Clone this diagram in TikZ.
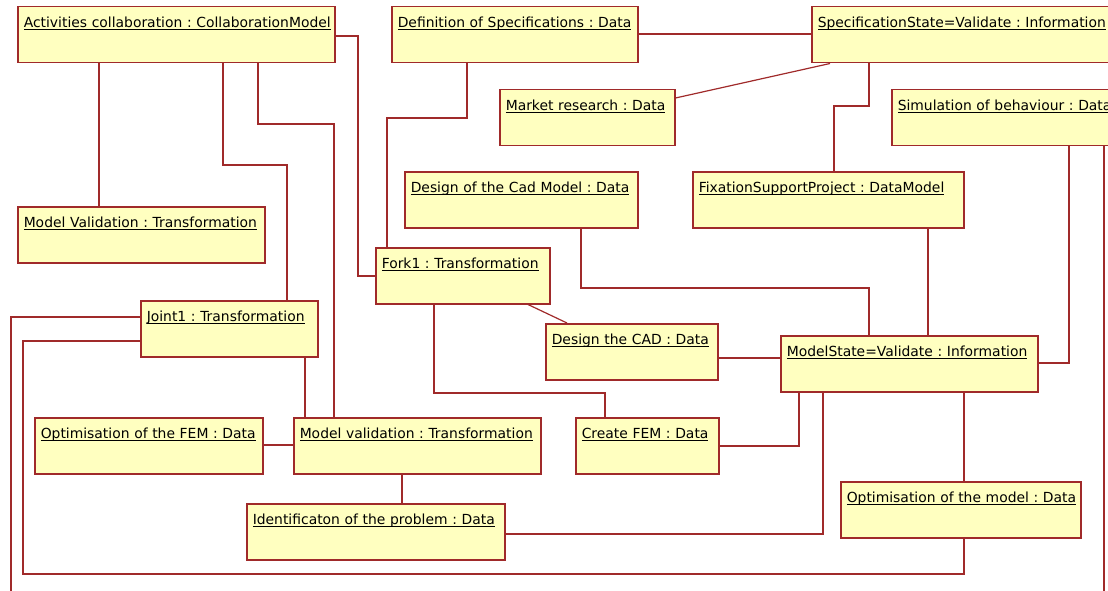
\documentclass[tikz,border=0pt]{standalone}
\usepackage{fontspec}
\setmainfont{DejaVu Sans}
\frenchspacing
\definecolor{linec}{RGB}{160,42,42}
\definecolor{boxfill}{RGB}{255,255,192}
\newcommand\ulbl[1]{\setbox0\hbox{#1}\rlap{\rule[-2.6pt]{\wd0}{0.9pt}}\box0}
\begin{document}
\begin{tikzpicture}[x=1pt,y=-1pt,
  obj/.style={draw=linec, fill=boxfill, line width=1.5pt, anchor=north west,
    inner xsep=6pt, inner ysep=0pt, text height=21pt, text depth=35pt,
    align=left, font=\fontsize{13.9}{15}\selectfont},
  conn/.style={draw=linec, line width=1.2pt}]
\useasboundingbox (0,0) rectangle (1108,591);
\clip (0,0) rectangle (1108,591);

% boxes
\node[obj, text width=305pt] (collab) at (17,6) {\ulbl{Activities collaboration : CollaborationModel}};
\node[obj, text width=234pt] (defspec) at (391,6) {\ulbl{Definition of Specifications : Data}};
\node[obj, text width=330pt] (specstate) at (811,6) {\ulbl{SpecificationState=Validate : Information}};
\node[obj, text width=163pt] (market) at (499,89) {\ulbl{Market research : Data}};
\node[obj, text width=250pt] (simul) at (891,89) {\ulbl{Simulation of behaviour : Data}};
\node[obj, text width=221pt] (designcad) at (404,171) {\ulbl{Design of the Cad Model : Data}};
\node[obj, text width=259pt] (fixation) at (692,171) {\ulbl{FixationSupportProject : DataModel}};
\node[obj, text width=235pt] (modelvalT) at (17,206) {\ulbl{Model Validation : Transformation}};
\node[obj, text width=162pt] (fork) at (375,247) {\ulbl{Fork1 : Transformation}};
\node[obj, text width=165pt] (joint) at (140,300) {\ulbl{Joint1 : Transformation}};
\node[obj, text width=160pt] (designthecad) at (545,323) {\ulbl{Design the CAD : Data}};
\node[obj, text width=245pt] (modelstate) at (780,335) {\ulbl{ModelState=Validate : Information}};
\node[obj, text width=216pt] (optfem) at (34,417) {\ulbl{Optimisation of the FEM : Data}};
\node[obj, text width=235pt] (modelval) at (293,417) {\ulbl{Model validation : Transformation}};
\node[obj, text width=131pt] (createfem) at (575,417) {\ulbl{Create FEM : Data}};
\node[obj, text width=246pt] (ident) at (246,503) {\ulbl{Identificaton of the problem : Data}};
\node[obj, text width=228pt] (optmodel) at (840,481) {\ulbl{Optimisation of the model : Data}};

\coordinate (offL) at (11,600);
\coordinate (offR) at (1104,600);

% connectors
\draw[conn] ([shift={(82,0)}]collab.south west) -- ([shift={(82,0)}]modelvalT.north west);
\draw[conn] ([shift={(206,0)}]collab.south west) -- (223,165) -- (287,165) -- ([shift={(147,0)}]joint.north west);
\draw[conn] ([shift={(241,0)}]collab.south west) -- (258,124) -- (334,124) -- ([shift={(41,0)}]modelval.north west);
\draw[conn] ([shift={(0,30)}]collab.north east) -- (358,36) -- (358,276) -- ([shift={(0,29)}]fork.north west);
\draw[conn] ([shift={(76,0)}]defspec.south west) -- (467,118) -- (387,118) -- ([shift={(12,0)}]fork.north west);
\draw[conn] ([shift={(0,28)}]defspec.north east) -- ([shift={(0,28)}]specstate.north west);
\draw[conn] ([shift={(0,9)}]market.north east) -- ([shift={(19,0)}]specstate.south west);
\draw[conn] ([shift={(58,0)}]specstate.south west) -- (869,106) -- (834,106) -- ([shift={(142,0)}]fixation.north west);
\draw[conn] ([shift={(178,0)}]simul.south west) -- (1069,363) -- ([shift={(0,28)}]modelstate.north east);
\draw[conn] ([shift={(213,0)}]simul.south west) -- (offR);
\draw[conn] ([shift={(0,17)}]joint.north west) -- (11,317) -- (offL);
\draw[conn] ([shift={(0,41)}]joint.north west) -- (23,341) -- (23,574) -- (964,574) -- ([shift={(124,0)}]optmodel.south west);
\draw[conn] ([shift={(165,0)}]joint.south west) -- ([shift={(12,0)}]modelval.north west);
\draw[conn] ([shift={(177,0)}]designcad.south west) -- (581,288) -- (869,288) -- ([shift={(89,0)}]modelstate.north west);
\draw[conn] ([shift={(236,0)}]fixation.south west) -- ([shift={(148,0)}]modelstate.north west);
\draw[conn] ([shift={(153,0)}]fork.south west) -- ([shift={(22,0)}]designthecad.north west);
\draw[conn] ([shift={(59,0)}]fork.south west) -- (434,393) -- (605,393) -- ([shift={(30,0)}]createfem.north west);
\draw[conn] ([shift={(0,35)}]designthecad.north east) -- ([shift={(0,23)}]modelstate.north west);
\draw[conn] ([shift={(0,29)}]createfem.north east) -- (799,446) -- ([shift={(19,0)}]modelstate.south west);
\draw[conn] ([shift={(0,31)}]ident.north east) -- (823,534) -- ([shift={(43,0)}]modelstate.south west);
\draw[conn] ([shift={(184,0)}]modelstate.south west) -- ([shift={(124,0)}]optmodel.north west);
\draw[conn] ([shift={(0,28)}]optfem.north east) -- ([shift={(0,28)}]modelval.north west);
\draw[conn] ([shift={(109,0)}]modelval.south west) -- ([shift={(156,0)}]ident.north west);
\end{tikzpicture}
\end{document}
